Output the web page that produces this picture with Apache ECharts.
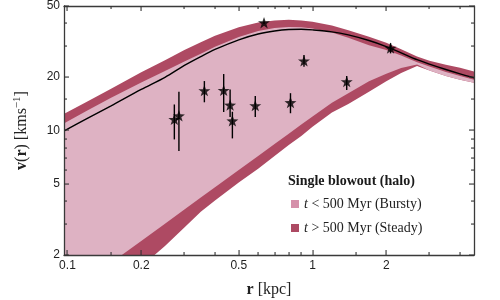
<!DOCTYPE html>
<html>
<head>
<meta charset="utf-8">
<script src="https://cdn.jsdelivr.net/npm/echarts/dist/echarts.min.js"></script>
<style>
html,body{margin:0;padding:0;background:#fff;}
#chart{width:500px;height:300px;}
</style>
</head>
<body>
<div id="chart"></div>
<script>
// ---- data ----
const radius         = [0.097, 0.12, 0.15, 0.2, 0.25, 0.3, 0.35, 0.4, 0.5, 0.6, 0.7, 0.8, 0.9, 1.0, 1.2, 1.4, 1.7, 2.0, 2.3, 2.67, 3.0, 3.5, 4.0, 4.6];
const vModel         = [9.95, 11.65, 13.7, 17.0, 19.9, 23.2, 26.0, 28.5, 32.3, 34.8, 36.2, 36.9, 37.0, 36.7, 35.8, 34.4, 32.0, 29.6, 27.3, 25.0, 23.6, 22.0, 20.8, 19.7];
const vSteadyTop     = [12.4, 14.5, 17.1, 21.2, 24.8, 28.3, 31.3, 34.0, 38.0, 40.4, 41.5, 41.8, 41.5, 40.8, 38.9, 36.5, 33.6, 31.1, 28.6, 26.0, 24.6, 23.4, 22.5, 21.4];
const vBurstyTop     = [11.0, 12.9, 15.2, 18.6, 21.6, 24.4, 27.0, 29.5, 33.5, 36.2, 37.6, 38.1, 38.0, 37.4, 35.5, 33.2, 30.1, 28.3, 26.4, 24.2, 22.9, 21.3, 20.2, 19.2];
const vBurstyBottom  = [1.17, 1.44, 1.80, 2.40, 3.0, 3.6, 4.2, 4.8, 6.0, 7.2, 8.4, 9.6, 10.8, 12.0, 14.3, 16.2, 18.9, 20.8, 22.4, 23.5, 21.7, 20.2, 19.3, 18.5];
const vSteadyBottom  = [0.7, 0.9, 1.2, 1.72, 2.25, 2.85, 3.5, 4.05, 5.1, 6.1, 7.2, 8.3, 9.3, 10.5, 12.6, 14.1, 16.5, 18.9, 21.0, 23.0, 21.7, 20.2, 19.3, 18.5];

const obsR  = [0.273, 0.285, 0.362, 0.434, 0.461, 0.471, 0.584, 0.634, 0.813, 0.923, 1.379, 2.082];
const obsV  = [11.55, 12.1, 16.75, 16.8, 13.9, 11.34, 13.8, 40.3, 14.35, 24.6, 18.8, 29.0];
const obsLo = [8.91, 7.66, 14.4, 12.7, 11.9, 9.03, 11.9, 39.6, 12.5, 22.8, 16.9, 27.1];
const obsHi = [14.0, 16.5, 18.95, 20.75, 17.0, 12.74, 15.6, 41.0, 16.2, 26.5, 20.2, 30.9];

const xMajorTicks = [0.1, 0.2, 0.5, 1, 2];
const xMinorTicks = [0.15, 0.3, 0.4, 0.6, 0.7, 0.8, 0.9, 1.5, 3, 4];
const yMajorTicks = [2, 5, 10, 20, 50];
const yMinorTicks = [3, 4, 6, 7, 8, 9, 15, 30, 40];

const legendBursty = 't < 500 Myr (Bursty)';
const legendSteady = 't > 500 Myr (Steady)';
const legendTitle  = 'Single blowout (halo)';

// ---- styling ----
const X_MIN = 0.0968, X_MAX = 4.56, Y_MIN = 2, Y_MAX = 50;
const AXIS_COLOR = '#3a3a3a';
const TICK_COLOR = '#333333';
const LIGHT_FILL = '#deb2c3', DARK_FILL = '#ae4a63';
const LIGHT_KEY = '#d590aa', DARK_KEY = '#ad4a63';
const SERIF = '"Liberation Serif", "DejaVu Serif", serif';
const SANS = '"Liberation Sans", Arial, sans-serif';
const MAJOR_LEN = 5, MINOR_LEN = 3;

const fmt = v => String(+(+v).toPrecision(3));

function xAxisCfg(pos, labels, extra) {
  return Object.assign({
    type: 'log', logBase: 10, position: pos, min: X_MIN, max: X_MAX, z: 10,
    axisLine: {show: true, onZero: false, lineStyle: {color: AXIS_COLOR, width: 1.3}},
    axisTick: {show: false},
    axisLabel: {show: labels, customValues: xMajorTicks, formatter: fmt, color: '#222', fontFamily: SANS, fontSize: 12, margin: 5, hideOverlap: false},
    splitLine: {show: false}, minorTick: {show: false}, minorSplitLine: {show: false}
  }, extra || {});
}
function yAxisCfg(pos, labels, extra) {
  return Object.assign({
    type: 'log', logBase: 10, position: pos, min: Y_MIN, max: Y_MAX, z: 10,
    axisLine: {show: true, onZero: false, lineStyle: {color: AXIS_COLOR, width: 1.3}},
    axisTick: {show: false},
    axisLabel: {show: labels, customValues: yMajorTicks, formatter: fmt, color: '#222', fontFamily: SANS, fontSize: 12, margin: 4, hideOverlap: false},
    splitLine: {show: false}, minorTick: {show: false}, minorSplitLine: {show: false}
  }, extra || {});
}

function bandSeries(name, upper, lower, fill, keyColor, z) {
  return {
    name: name, type: 'custom', coordinateSystem: 'cartesian2d',
    xAxisIndex: 0, yAxisIndex: 0, clip: true, z: z, silent: true,
    itemStyle: {color: keyColor},
    data: [[1, 10]],
    renderItem: function (params, api) {
      const pts = [];
      for (let i = 0; i < radius.length; i++) pts.push(api.coord([radius[i], upper[i]]));
      for (let i = radius.length - 1; i >= 0; i--) pts.push(api.coord([radius[i], lower[i]]));
      return {type: 'polygon', shape: {points: pts}, style: {fill: fill, stroke: null}};
    }
  };
}

// inward tick marks on all four sides, placed through the axis scales
function tickSeries(isX) {
  const data = [];
  (isX ? xMajorTicks : yMajorTicks).forEach(v => data.push(isX ? [v, 10, MAJOR_LEN] : [1, v, MAJOR_LEN]));
  (isX ? xMinorTicks : yMinorTicks).forEach(v => data.push(isX ? [v, 10, MINOR_LEN] : [1, v, MINOR_LEN]));
  return {
    type: 'custom', coordinateSystem: 'cartesian2d', xAxisIndex: 0, yAxisIndex: 0,
    z: 20, silent: true,
    data: data,
    encode: {x: 0, y: 1},
    renderItem: function (params, api) {
      const cs = params.coordSys;
      const len = api.value(2);
      const p = api.coord([api.value(0), api.value(1)]);
      if (isX) {
        const x = Math.round(p[0]) - 0.5;
        return {type: 'group', children: [
          {type: 'rect', shape: {x: x, y: cs.y + cs.height - len, width: 1.1, height: len}, style: {fill: TICK_COLOR}},
          {type: 'rect', shape: {x: x, y: cs.y, width: 1.1, height: len}, style: {fill: TICK_COLOR}}
        ]};
      }
      const y = Math.round(p[1]) - 0.5;
      return {type: 'group', children: [
        {type: 'rect', shape: {x: cs.x, y: y, width: len, height: 1.1}, style: {fill: TICK_COLOR}},
        {type: 'rect', shape: {x: cs.x + cs.width - len, y: y, width: len, height: 1.1}, style: {fill: TICK_COLOR}}
      ]};
    }
  };
}

const chart = echarts.init(document.getElementById('chart'), null, {renderer: 'canvas'});
chart.setOption({
  animation: false,
  backgroundColor: '#fff',
  grid: {left: 64, top: 6, right: 26, bottom: 45, containLabel: false, outerBoundsMode: 'none'},
  title: {
    text: legendTitle, left: 288, top: 174, padding: 0,
    textStyle: {fontFamily: SERIF, fontWeight: 'bold', fontSize: 14, color: '#1a1a1a'}
  },
  legend: {
    left: 291, top: 196, orient: 'vertical', icon: 'rect',
    itemWidth: 8, itemHeight: 8, itemGap: 8, padding: 0,
    data: ['bursty', 'steady'],
    formatter: n => n === 'bursty' ? '{i|t} ' + legendBursty.slice(2) : '{i|t} ' + legendSteady.slice(2),
    textStyle: {fontFamily: SERIF, fontSize: 14, color: '#222', lineHeight: 16,
      rich: {i: {fontFamily: SERIF, fontStyle: 'italic', fontSize: 14, color: '#222'}}},
    selectedMode: false
  },
  xAxis: [
    xAxisCfg('bottom', true, {
      name: '{b|r} [kpc]', nameLocation: 'middle', nameGap: 27,
      nameTextStyle: {fontFamily: SERIF, fontSize: 16, color: '#222',
        rich: {b: {fontFamily: SERIF, fontWeight: 'bold', fontSize: 16, color: '#222'}}}
    }),
    xAxisCfg('top', false)
  ],
  yAxis: [
    yAxisCfg('left', true, {
      name: '{b|v}({b|r}) [kms{s|−1}]', nameLocation: 'middle', nameGap: 32, nameRotate: 90,
      nameTextStyle: {fontFamily: SERIF, fontSize: 16, color: '#222', lineHeight: 20,
        rich: {
          b: {fontFamily: SERIF, fontWeight: 'bold', fontSize: 16, color: '#222', lineHeight: 20},
          s: {fontFamily: SERIF, fontSize: 11, color: '#222', verticalAlign: 'top', lineHeight: 12}
        }}
    }),
    yAxisCfg('right', false)
  ],
  series: [
    bandSeries('steady', vSteadyTop, vSteadyBottom, DARK_FILL, DARK_KEY, 1),
    bandSeries('bursty', vBurstyTop, vBurstyBottom, LIGHT_FILL, LIGHT_KEY, 2),
    {
      name: 'model', type: 'line', xAxisIndex: 0, yAxisIndex: 0, z: 3,
      data: radius.map((r, i) => [r, vModel[i]]),
      smooth: 0.3, showSymbol: false, symbol: 'none', silent: true,
      lineStyle: {color: '#000', width: 1.4}
    },
    {
      name: 'errors', type: 'custom', xAxisIndex: 0, yAxisIndex: 0, z: 4, silent: true,
      data: obsR.map((r, i) => [r, obsLo[i], obsHi[i]]),
      encode: {x: 0, y: [1, 2]},
      renderItem: function (params, api) {
        const a = api.coord([api.value(0), api.value(1)]);
        const b = api.coord([api.value(0), api.value(2)]);
        return {type: 'line', shape: {x1: a[0], y1: a[1], x2: b[0], y2: b[1]},
          style: {stroke: '#000', lineWidth: 1.4}};
      }
    },
    {
      name: 'observed', type: 'scatter', xAxisIndex: 0, yAxisIndex: 0, z: 5, silent: true,
      data: obsR.map((r, i) => [r, obsV[i]]),
      symbol: 'path://M0,-10 L2.35,-3.24 L9.51,-3.09 L3.8,1.24 L5.88,8.09 L0,4 L-5.88,8.09 L-3.8,1.24 L-9.51,-3.09 L-2.35,-3.24 Z',
      symbolSize: 12, symbolKeepAspect: true,
      itemStyle: {color: '#000'}
    },
    tickSeries(true),
    tickSeries(false)
  ]
});
</script>
</body>
</html>
